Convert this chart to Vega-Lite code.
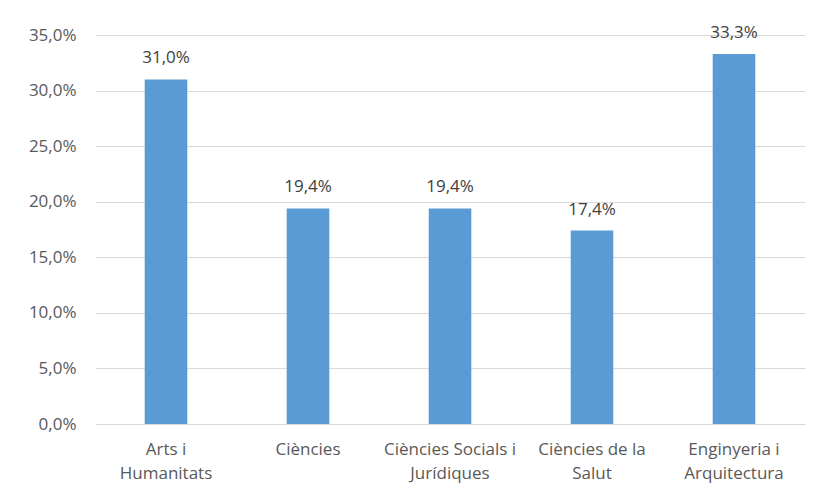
{
  "$schema": "https://vega.github.io/schema/vega-lite/v6.json",
  "width": 710,
  "height": 389,
  "autosize": {"type": "none"},
  "padding": {"left": 95, "top": 35, "right": 16, "bottom": 69},
  "background": "white",
  "config": {
    "locale": {"number": {"decimal": ",", "thousands": ".", "grouping": [3], "currency": ["", " €"]}},
    "view": {"stroke": null},
    "font": "Open Sans, sans-serif"
  },
  "data": {
    "values": [
      {"area": "Arts i Humanitats", "value": 0.310},
      {"area": "Ciències", "value": 0.194},
      {"area": "Ciències Socials i Jurídiques", "value": 0.194},
      {"area": "Ciències de la Salut", "value": 0.174},
      {"area": "Enginyeria i Arquitectura", "value": 0.333}
    ]
  },
  "encoding": {
    "x": {
      "field": "area",
      "type": "nominal",
      "sort": null,
      "scale": {"paddingInner": 0.7, "paddingOuter": 0.35},
      "axis": {
        "title": null,
        "labelAngle": 0,
        "domain": false,
        "ticks": false,
        "labelPadding": 17,
        "labelFontSize": 17,
        "labelColor": "#595959",
        "labelLineHeight": 24,
        "labelBaseline": "top",
        "labelExpr": "datum.label == 'Arts i Humanitats' ? ['Arts i', 'Humanitats'] : datum.label == 'Ciències Socials i Jurídiques' ? ['Ciències Socials i', 'Jurídiques'] : datum.label == 'Ciències de la Salut' ? ['Ciències de la', 'Salut'] : datum.label == 'Enginyeria i Arquitectura' ? ['Enginyeria i', 'Arquitectura'] : datum.label"
      }
    },
    "y": {
      "field": "value",
      "type": "quantitative",
      "scale": {"domain": [0, 0.35], "nice": false},
      "axis": {
        "title": null,
        "format": ".1%",
        "values": [0, 0.05, 0.1, 0.15, 0.2, 0.25, 0.3, 0.35],
        "domain": false,
        "ticks": false,
        "labelPadding": 19,
        "labelFontSize": 17,
        "labelColor": "#595959",
        "gridColor": "#D9D9D9",
        "gridWidth": 1
      }
    }
  },
  "layer": [
    {"mark": {"type": "bar", "color": "#5B9BD5"}},
    {
      "mark": {"type": "text", "baseline": "bottom", "dy": -12, "fontSize": 17, "color": "#404040"},
      "encoding": {"text": {"field": "value", "type": "quantitative", "format": ".1%"}}
    }
  ]
}
